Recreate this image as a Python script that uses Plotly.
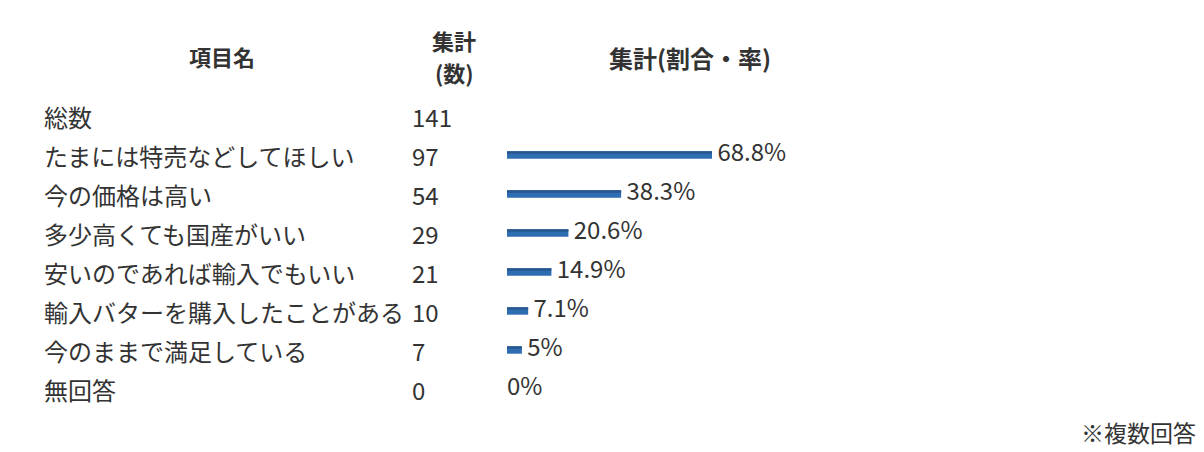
import plotly.graph_objects as go

items = ["総数", "たまには特売などしてほしい", "今の価格は高い", "多少高くても国産がいい",
         "安いのであれば輸入でもいい", "輸入バターを購入したことがある", "今のままで満足している", "無回答"]
counts = [141, 97, 54, 29, 21, 10, 7, 0]
rates = [None, 68.8, 38.3, 20.6, 14.9, 7.1, 5.0, 0.0]
rate_labels = ["", "68.8%", "38.3%", "20.6%", "14.9%", "7.1%", "5%", "0%"]
headers = ["項目名", "集計", "(数)", "集計(割合・率)"]
note = "※複数回答"

W, H = 1204, 452
FONT = "Noto Sans CJK JP, Noto Sans, sans-serif"
TXT = "#333333"

row_idx = list(range(len(items)))
bar_idx = [i for i in row_idx if rates[i] is not None and rates[i] > 0]

fig = go.Figure()
fig.add_trace(go.Bar(
    x=[rates[i] for i in bar_idx], y=bar_idx, orientation="h",
    marker=dict(color="#2f6db3", line=dict(width=0)), width=0.19,
    hoverinfo="skip", showlegend=False))
# darker top edge for shading
fig.add_trace(go.Bar(
    x=[rates[i] for i in bar_idx], y=bar_idx, orientation="h",
    marker=dict(color="#27568f", line=dict(width=0)), width=0.06, offset=-0.095,
    hoverinfo="skip", showlegend=False))
fig.add_trace(go.Scatter(
    x=[rates[i] if rates[i] is not None else 0 for i in row_idx[1:]],
    y=row_idx[1:], mode="text",
    text=[(" " + t if r else t) for t, r in zip(rate_labels[1:], rates[1:])],
    textposition="middle right",
    textfont=dict(family=FONT, size=24, color=TXT),
    hoverinfo="skip", showlegend=False))

anns = []
for i, (name, c) in enumerate(zip(items, counts)):
    anns.append(dict(x=42 / W, y=i, xref="paper", yref="y", text=name, showarrow=False,
                     xanchor="left", yanchor="middle",
                     font=dict(family=FONT, size=24, color=TXT)))
    anns.append(dict(x=410 / W, y=i, xref="paper", yref="y", text=str(c), showarrow=False,
                     xanchor="left", yanchor="middle",
                     font=dict(family=FONT, size=24, color=TXT)))
hdr_pos = [(222, 56, 22), (454, 40, 22), (454, 72, 22), (690, 57, 24)]
for h, (hx, hy, hs) in zip(headers, hdr_pos):
    anns.append(dict(x=hx / W, y=1 - hy / H, xref="paper", yref="paper", text="<b>" + h + "</b>",
                     showarrow=False, xanchor="center", yanchor="middle",
                     font=dict(family=FONT, size=hs, color=TXT)))
anns.append(dict(x=1198 / W, y=1 - 432 / H, xref="paper", yref="paper", text=note,
                 showarrow=False, xanchor="right", yanchor="middle",
                 font=dict(family=FONT, size=23, color=TXT)))

x0 = 507
px_per = 2.98
y0, dy = 116, 39
fig.update_layout(
    width=W, height=H, margin=dict(l=0, r=0, t=0, b=0),
    paper_bgcolor="white", plot_bgcolor="white",
    barmode="overlay", annotations=anns,
    xaxis=dict(domain=[x0 / W, 1], range=[0, (W - x0) / px_per], visible=False, fixedrange=True),
    yaxis=dict(domain=[0, 1], range=[(H - y0) / dy, -y0 / dy], visible=False, fixedrange=True),
)
fig.write_html("out.html", config={"displayModeBar": False},
               post_script="document.body.style.margin='0';document.body.style.overflow='hidden';")
